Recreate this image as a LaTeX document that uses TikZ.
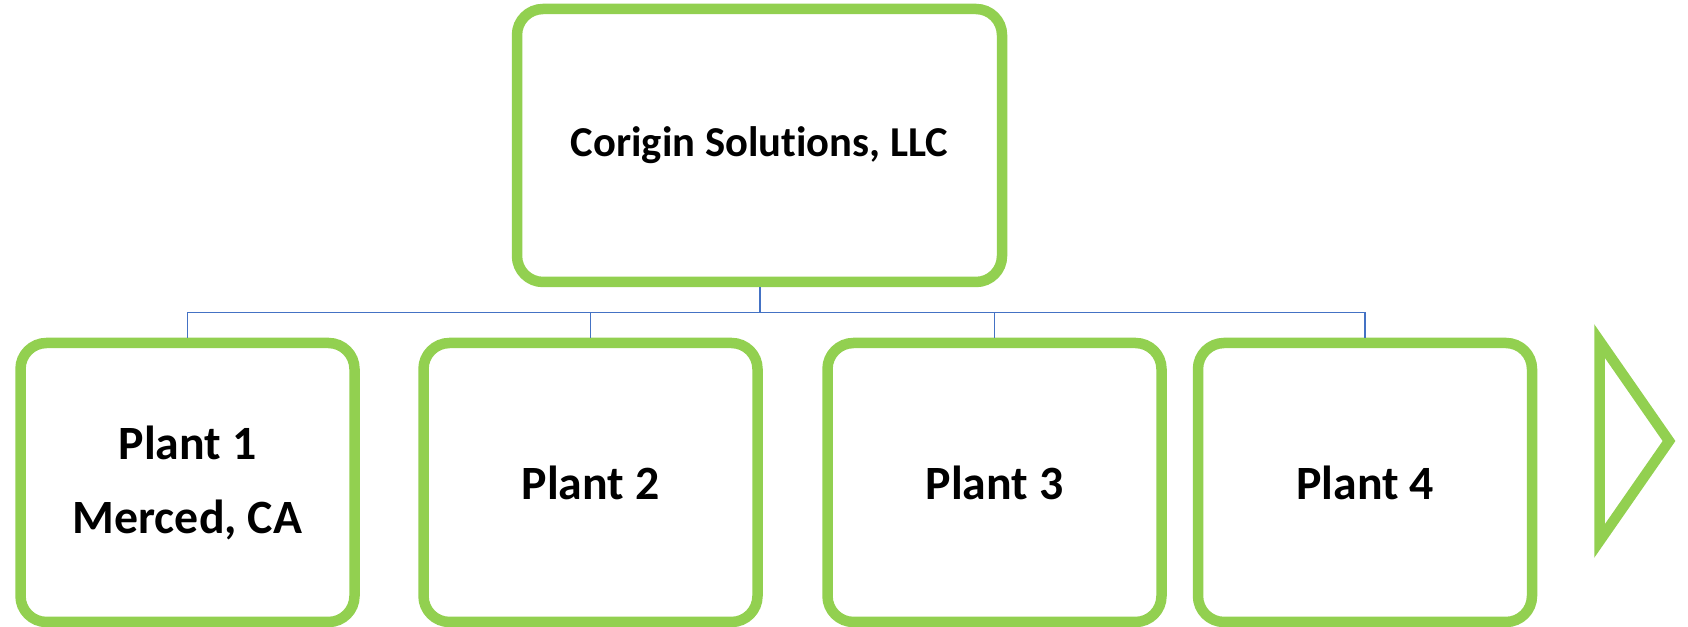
\documentclass[tikz,border=0pt]{standalone}
\usepackage{fontspec}
\setmainfont{Carlito}[Ligatures={NoCommon,NoContextual}, RawFeature={-liga;-clig}]
\usepackage{tikz}
\usetikzlibrary{positioning, calc}
\definecolor{leafgreen}{HTML}{92D050}
\definecolor{linkblue}{HTML}{4472C4}

\begin{document}
\begin{tikzpicture}[x=1pt, y=1pt,
  box/.style={draw=leafgreen, line width=10.5pt, rounded corners=26pt, fill=white, align=center, inner sep=0pt},
  plantbox/.style={box, minimum width=334pt, minimum height=279pt, font=\fontsize{47.8}{74}\selectfont\bfseries},
  link/.style={draw=linkblue, line width=1.3pt}]
  \useasboundingbox (0,0) rectangle (1688,626);
  % top of the chart
  \node[box, minimum width=485pt, minimum height=273pt, font=\fontsize{42.6}{50}\selectfont\bfseries] (corigin) at (759.5,480.5) {Corigin Solutions, LLC};
  % the plants
  \node[plantbox] (plant1) at (187.5,143.5) {Plant 1\\Merced, CA};
  \node[plantbox] (plant2) at (590.5,143.5) {Plant 2};
  \node[plantbox] (plant3) at (994.5,143.5) {Plant 3};
  \node[plantbox] (plant4) at (1365,143.5) {Plant 4};
  % links
  \coordinate (bus) at ($(corigin.south)+(0,-25)$);
  \draw[link, line width=2pt] (corigin.south) -- (bus);
  \draw[link] (bus -| plant1.north) -- (bus -| plant4.north);
  \foreach \p in {plant1, plant2, plant3, plant4}
    \draw[link] (bus -| \p.north) -- (\p.north);
  % more arrow
  \draw[leafgreen, line width=10.5pt, line join=miter] (1599.5,285) -- (1599.5,85) -- (1669,185) -- cycle;
\end{tikzpicture}
\end{document}
